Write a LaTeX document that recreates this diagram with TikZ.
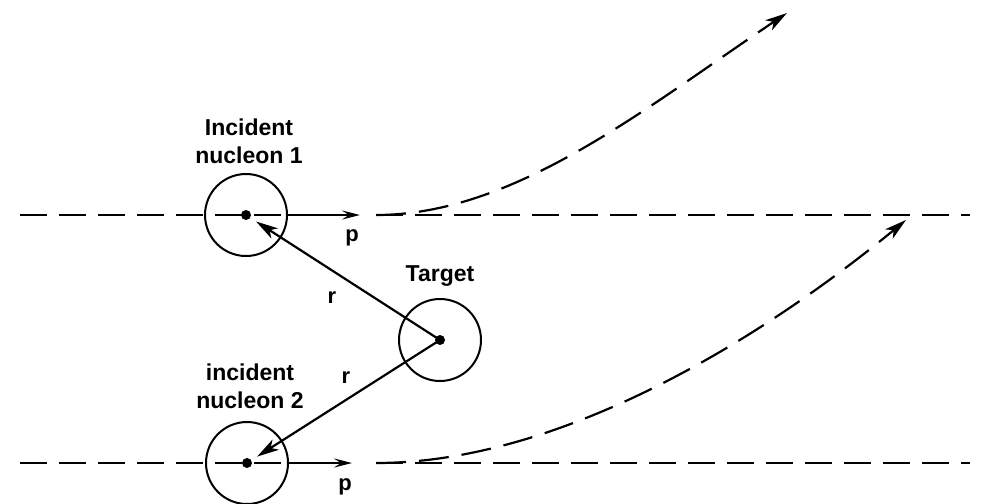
\documentclass[tikz,border=0pt]{standalone}
\usepackage{fontspec}
\setmainfont{Liberation Sans}
\usetikzlibrary{arrows.meta}
\begin{document}
\begin{tikzpicture}[x=1pt,y=-1pt,
  lw/.style={line width=2.2pt},
  dashline/.style={lw,dash pattern=on 27pt off 12pt},
  dashcurve/.style={lw,dash pattern=on 30pt off 13pt},
  nuc/.style={circle,draw,line width=2pt,minimum size=82pt,inner sep=0pt},
  lbl/.style={font=\bfseries\fontsize{23}{28}\selectfont,align=center,inner sep=0pt},
  sym/.style={font=\bfseries\fontsize{22}{26}\selectfont,inner sep=0pt},
  tip/.style={-{Stealth[length=22pt,width=12pt,inset=6pt]}},
  ptip/.style={-{Stealth[length=18pt,width=9pt,inset=7pt]}}]
\useasboundingbox (0,0) rectangle (984,503);
% nuclei
\node[nuc] (n1) at (246,215) {};
\node[nuc] (n2) at (247,463) {};
\node[nuc] (t) at (440,340) {};
% line ends
\coordinate (l1a) at (20,215);
\coordinate (l1b) at (970,215);
\coordinate (l1s) at (376,215);
\coordinate (p1) at (360,215);
\coordinate (l2a) at (20,463);
\coordinate (l2b) at (970,463);
\coordinate (l2s) at (376,463);
\coordinate (p2) at (352,463);
\coordinate (e1) at (787,13);
\coordinate (e2) at (906,220);
% horizontal lines
\draw[dashline] (l1a) -- (n1.east);
\draw[dashline] (l1s) -- (l1b);
\draw[lw,ptip] (n1.east) -- (p1);
\draw[dashline] (l2a) -- (n2.east);
\draw[dashline] (l2s) -- (l2b);
\draw[lw,ptip] (n2.east) -- (p2);
% deflected paths
\draw[dashcurve,tip] (l1s) .. controls (515,215) and (645,108) .. (e1);
\draw[dashcurve,tip] (l2s) .. controls (560,463) and (760,340) .. (e2);
% centres
\fill (n1.center) circle (5pt);
\fill (n2.center) circle (5pt);
\fill (t.center) circle (5pt);
% r vectors
\draw[lw,tip,shorten >=12pt] (t.center) -- (n1.center);
\draw[lw,tip,shorten >=12pt] (t.center) -- (n2.center);
% labels
\node[lbl] (lab1) at (249,141) {Incident\\nucleon 1};
\node[lbl] (lab2) at (250,386) {incident\\nucleon 2};
\node[lbl] (labt) at (440,276) {Target};
\node[sym] (r1) at (332,298) {r};
\node[sym] (r2) at (346,378) {r};
\node[sym] (pl1) at (352,238) {p};
\node[sym] (pl2) at (345,487) {p};
\end{tikzpicture}
\end{document}
